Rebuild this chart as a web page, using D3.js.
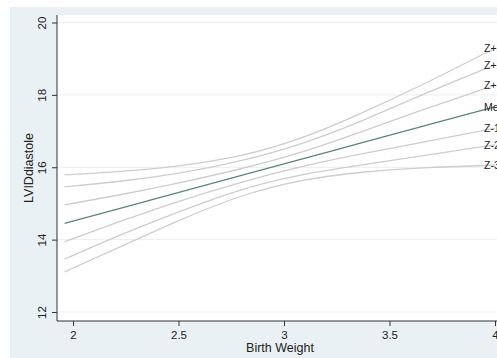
<!DOCTYPE html>
<html>
<head>
<meta charset="utf-8">
<script src="https://cdn.jsdelivr.net/npm/d3@7"></script>
<style>
  html, body { margin: 0; padding: 0; background: #ffffff; }
  svg { display: block; font-family: "Liberation Sans", Arial, sans-serif; }
</style>
</head>
<body>
<svg id="chart" width="497" height="358"></svg>
<script>
// ---- data ----
const birthWeight = [1.96, 2.22, 2.5, 2.79, 3.08, 3.36, 3.65, 4.0];
const seriesNames = ["Z+3", "Z+2", "Z+1", "Mean", "Z-1", "Z-2", "Z-3"];
const zPlus3  = [15.79, 15.88, 16.02, 16.28, 16.77, 17.47, 18.25, 19.29];
const zPlus2  = [15.46, 15.60, 15.82, 16.15, 16.62, 17.25, 18.00, 18.83];
const zPlus1  = [14.96, 15.23, 15.56, 15.94, 16.39, 16.96, 17.58, 18.27];
const meanVal = [14.45, 14.86, 15.30, 15.76, 16.22, 16.66, 17.12, 17.67];
const zMinus1 = [13.94, 14.50, 15.07, 15.58, 16.03, 16.37, 16.68, 17.08];
const zMinus2 = [13.46, 14.13, 14.77, 15.40, 15.81, 16.06, 16.31, 16.62];
const zMinus3 = [13.11, 13.79, 14.53, 15.23, 15.66, 15.87, 15.99, 16.06];
const xTicks = [2, 2.5, 3, 3.5, 4];
const yTicks = [12, 14, 16, 18, 20];
const xTitle = "Birth Weight";
const yTitle = "LVIDdiastole";

const seriesValues = [zPlus3, zPlus2, zPlus1, meanVal, zMinus1, zMinus2, zMinus3];

// ---- layout ----
const svg = d3.select("#chart");
const W = 497, H = 358;
const plotLeft = 57, plotTop = 15, plotBottom = 321, plotRight = 511;

const x = d3.scaleLinear().domain([2, 4]).range([73, 495]);
const y = d3.scaleLinear().domain([12, 20]).range([312, 22.5]);

// outer graph region
svg.append("rect").attr("x", 10).attr("y", 7).attr("width", W - 10).attr("height", H - 7)
  .attr("fill", "#eaf1f4");
// plot region
svg.append("rect").attr("x", plotLeft).attr("y", plotTop)
  .attr("width", plotRight - plotLeft).attr("height", plotBottom - plotTop)
  .attr("fill", "#ffffff");

// gridlines
svg.append("g").selectAll("line").data(yTicks).join("line")
  .attr("x1", plotLeft).attr("x2", plotRight)
  .attr("y1", d => y(d)).attr("y2", d => y(d))
  .attr("stroke", "#e8eff2").attr("stroke-width", 1);

// lines
const line = d3.line()
  .x((d, i) => x(birthWeight[i]))
  .y(d => y(d))
  .curve(d3.curveBasis);

svg.append("g").selectAll("path").data(seriesValues).join("path")
  .attr("d", d => line(d))
  .attr("fill", "none")
  .attr("stroke", (d, i) => seriesNames[i] === "Mean" ? "#5b8579" : "#cdcdcd")
  .attr("stroke-width", 1.3);

// end labels
svg.append("g").selectAll("text").data(seriesValues).join("text")
  .attr("x", d => x(birthWeight[birthWeight.length - 1]) - 11)
  .attr("y", d => y(d[d.length - 1]) + 4)
  .attr("font-size", 10.5)
  .attr("fill", "#222")
  .text((d, i) => seriesNames[i]);

// y axis
const yAxis = d3.axisLeft(y).tickValues(yTicks).tickSize(5).tickFormat(d3.format("d"));
const gy = svg.append("g").attr("transform", `translate(${plotLeft},0)`).call(yAxis);
gy.select(".domain").remove();
gy.append("line").attr("x1", 0).attr("x2", 0).attr("y1", plotTop).attr("y2", plotBottom)
  .attr("stroke", "#333").attr("stroke-width", 1);
gy.selectAll(".tick line").attr("stroke", "#333");
gy.selectAll(".tick text")
  .attr("x", null).attr("dy", null)
  .attr("transform", "translate(-11.5,0) rotate(-90)")
  .attr("text-anchor", "middle")
  .attr("font-size", 11.5)
  .attr("font-family", "Liberation Sans, Arial, sans-serif")
  .attr("fill", "#222");

// x axis
const xAxis = d3.axisBottom(x).tickValues(xTicks).tickSize(5).tickFormat(d => String(d));
const gx = svg.append("g").attr("transform", `translate(0,${plotBottom})`).call(xAxis);
gx.select(".domain").remove();
gx.append("line").attr("x1", plotLeft).attr("x2", plotRight).attr("y1", 0).attr("y2", 0)
  .attr("stroke", "#333").attr("stroke-width", 1);
gx.selectAll(".tick line").attr("stroke", "#333");
gx.selectAll(".tick text")
  .attr("y", 18).attr("dy", null)
  .attr("font-size", 11.5)
  .attr("font-family", "Liberation Sans, Arial, sans-serif")
  .attr("fill", "#222");

// axis titles
svg.append("text")
  .attr("x", (plotLeft + plotRight) / 2 - 4).attr("y", 351.5)
  .attr("text-anchor", "middle").attr("font-size", 12.5).attr("fill", "#222")
  .text(xTitle);
svg.append("text")
  .attr("transform", `translate(33,${(plotTop + plotBottom) / 2}) rotate(-90)`)
  .attr("text-anchor", "middle").attr("font-size", 12.5).attr("fill", "#222")
  .text(yTitle);
</script>
</body>
</html>
